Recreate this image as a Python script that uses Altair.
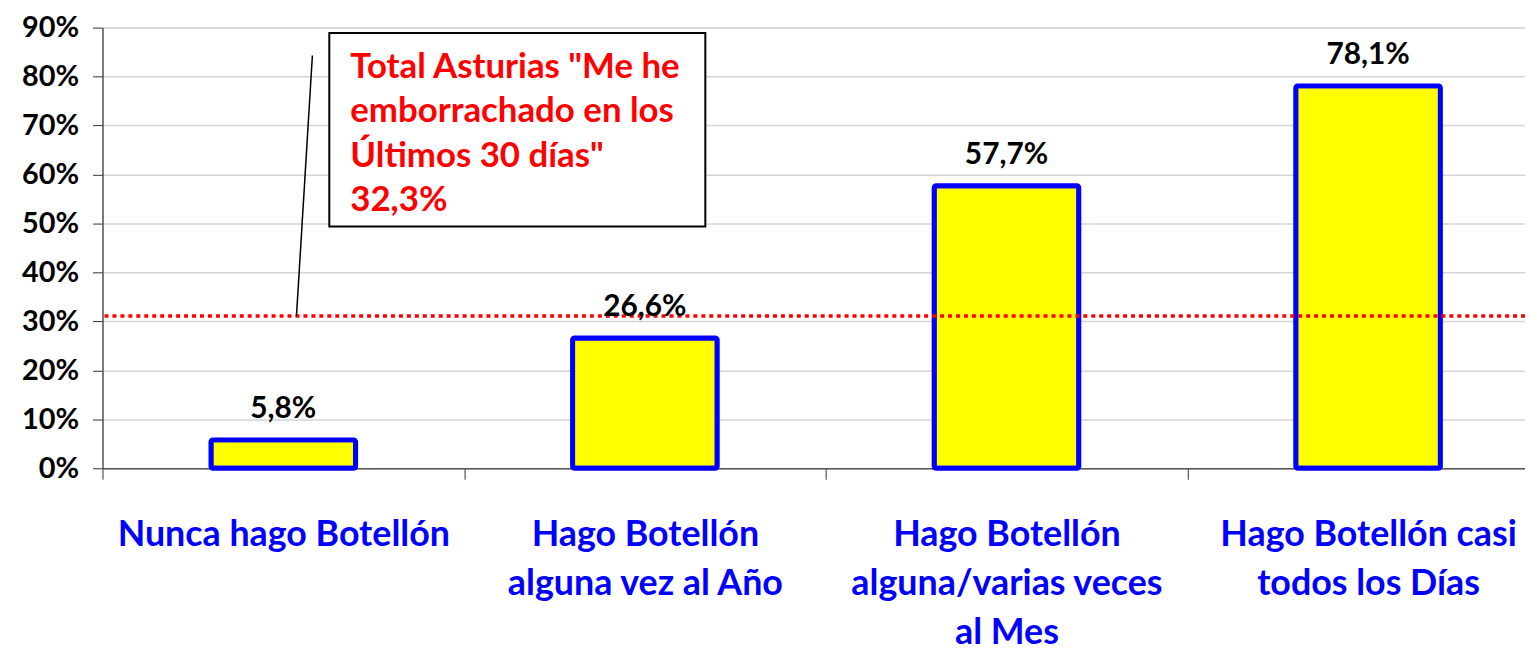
import altair as alt
import pandas as pd

# ---- data ----
CATEGORIES = [
    "Nunca hago Botellón",
    "Hago Botellón|alguna vez al Año",
    "Hago Botellón|alguna/varias veces|al Mes",
    "Hago Botellón casi|todos los Días",
]
VALUES = [5.8, 26.6, 57.7, 78.1]
TOTAL_DRAWN = 31.1          # where the dotted reference line sits
ANNOT_LINES = ['Total Asturias "Me he', "emborrachado en los", 'Últimos 30 días"', "32,3%"]
Y_TICKS = [0, 10, 20, 30, 40, 50, 60, 70, 80, 90]

df = pd.DataFrame({
    "cat": CATEGORIES,
    "val": VALUES,
    "lab": [f"{v:.1f}".replace(".", ",") + "%" for v in VALUES],
})

FONT = "Lato"
STEP = 1454 / 4

x_enc = alt.X(
    "cat:N",
    sort=CATEGORIES,
    scale=alt.Scale(range=[0, 1454], paddingInner=0.6, paddingOuter=0.3),
    axis=alt.Axis(
        title=None, labelAngle=0,
        tickOffset=-STEP / 2, labelOffset=STEP / 2,
        labelExpr="split(datum.label, '|')",
        labelFont=FONT, labelFontSize=36, labelFontWeight="bold",
        labelColor="#0000FF", labelLineHeight=49, labelPadding=39,
        labelLimit=600, labelOverlap=False,
        tickSize=11, tickColor="#333333", domainColor="#555555", domainWidth=1.5,
        grid=False,
    ),
)
y_enc = alt.Y(
    "val:Q",
    scale=alt.Scale(domain=[0, 90], nice=False),
    axis=alt.Axis(
        title=None, values=Y_TICKS, labelExpr="datum.value + '%'",
        labelFont=FONT, labelFontSize=29, labelFontWeight="bold", labelColor="black",
        labelPadding=14, tickSize=10, tickColor="#333333",
        domainColor="#555555", domainWidth=1.5,
        grid=True, gridColor="#D4D4D4", gridWidth=1.5,
    ),
)

base = alt.Chart(df)
bars = base.mark_bar(fill="#FFFF00", stroke="#0000FF", strokeWidth=5, cornerRadius=2).encode(x=x_enc, y=y_enc)
labels = base.mark_text(
    font=FONT, fontSize=30, fontWeight="bold", color="black", baseline="alphabetic", dy=-22
).encode(x=alt.X("cat:N", sort=CATEGORIES), y="val:Q", text="lab:N")

ref = alt.Chart(pd.DataFrame({"v": [TOTAL_DRAWN]})).mark_rule(
    color="#FF0000", strokeDash=[4, 4], strokeWidth=3.5
).encode(y="v:Q")

ann = pd.DataFrame({"top": [88.9], "bot": [49.4], "ltop": [84.3], "lbot": [TOTAL_DRAWN], "ty": [79.7]})
leader = alt.Chart(ann).mark_rule(color="black", strokeWidth=1.5).encode(
    x=alt.value(211), x2=alt.value(195), y="ltop:Q", y2="lbot:Q"
)
box = alt.Chart(ann).mark_rect(fill="white", stroke="black", strokeWidth=2).encode(
    x=alt.value(228), x2=alt.value(606), y="top:Q", y2="bot:Q"
)
ann_text = alt.Chart(ann).mark_text(
    align="left", baseline="alphabetic", font=FONT, fontSize=35, fontWeight="bold",
    color="#FF0000", lineHeight=44.5, text=ANNOT_LINES
).encode(x=alt.value(249), y="ty:Q")

chart = alt.layer(bars, ref, labels, leader, box, ann_text).properties(
    width=1430, height=443,
    autosize=alt.AutoSizeParams(type="none"),
    padding={"left": 95, "top": 18, "right": 0, "bottom": 186},
).configure_view(strokeWidth=0).configure(background="white")

chart.save("out.html", embed_options={"renderer": "svg", "actions": False})
